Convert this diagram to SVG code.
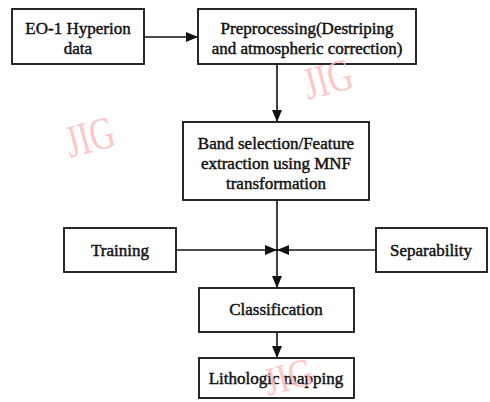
<svg xmlns="http://www.w3.org/2000/svg" width="490" height="402" viewBox="0 0 490 402">
  <style>
    .box { fill: #ffffff; stroke: #111111; stroke-width: 1.8; }
    .lbl { font-family: "Liberation Serif", "DejaVu Serif", serif; font-size: 17px; font-weight: normal; fill: #111111; stroke: #111111; stroke-width: 0.45; text-anchor: middle; }
    .edge { fill: none; stroke: #111111; stroke-width: 1.6; }
    .mark { font-family: "Liberation Serif", "DejaVu Serif", serif; font-size: 40px; fill: #ffbcbc; fill-opacity: 0.85; }
  </style>
  <defs>
    <marker id="arrow" markerUnits="userSpaceOnUse" markerWidth="12" markerHeight="10" refX="12" refY="5" orient="auto">
      <path d="M0,0 L12,5 L0,10 Z" fill="#111111"/>
    </marker>
  </defs>

  <rect width="490" height="402" fill="#ffffff"/>

  <g id="connectors">
    <line class="edge" x1="144" y1="37" x2="198" y2="37" marker-end="url(#arrow)"/>
    <line class="edge" x1="277" y1="64" x2="277" y2="122" marker-end="url(#arrow)"/>
    <line class="edge" x1="277" y1="200" x2="277" y2="288" marker-end="url(#arrow)"/>
    <line class="edge" x1="176" y1="250" x2="277" y2="250" marker-end="url(#arrow)"/>
    <line class="edge" x1="376" y1="250" x2="277" y2="250" marker-end="url(#arrow)"/>
    <line class="edge" x1="277" y1="332" x2="277" y2="358" marker-end="url(#arrow)"/>
  </g>

  <g id="hyperion">
    <rect class="box" x="12" y="9" width="132" height="55"/>
    <text class="lbl" x="78" y="34">EO-1 Hyperion</text>
    <text class="lbl" x="78" y="54">data</text>
  </g>

  <g id="preprocessing">
    <rect class="box" x="198" y="9" width="218" height="55"/>
    <text class="lbl" x="307" y="34">Preprocessing(Destriping</text>
    <text class="lbl" x="307" y="54">and atmospheric correction)</text>
  </g>

  <g id="mnf">
    <rect class="box" x="183" y="122" width="186" height="78"/>
    <text class="lbl" x="276" y="149">Band selection/Feature</text>
    <text class="lbl" x="276" y="169">extraction using MNF</text>
    <text class="lbl" x="276" y="189">transformation</text>
  </g>

  <g id="training">
    <rect class="box" x="64" y="228" width="112" height="44"/>
    <text class="lbl" x="120" y="256">Training</text>
  </g>

  <g id="separability">
    <rect class="box" x="376" y="228" width="111" height="44"/>
    <text class="lbl" x="431" y="256">Separability</text>
  </g>

  <g id="classification">
    <rect class="box" x="199" y="288" width="155" height="44"/>
    <text class="lbl" x="276" y="315">Classification</text>
  </g>

  <g id="lithologic">
    <rect class="box" x="199" y="358" width="155" height="40"/>
    <text class="lbl" x="276" y="384">Lithologic mapping</text>
  </g>

  <!-- faint stamped marks laid over the drawing -->
  <g id="watermarks">
    <text class="mark" transform="translate(70 158) rotate(-15) scale(0.85 1.15)">JIG</text>
    <text class="mark" transform="translate(308 100) rotate(-15) scale(0.85 1.15)">JIG</text>
    <text class="mark" transform="translate(268 396) rotate(-15) scale(0.85 1.0)">JIG</text>
  </g>
</svg>
